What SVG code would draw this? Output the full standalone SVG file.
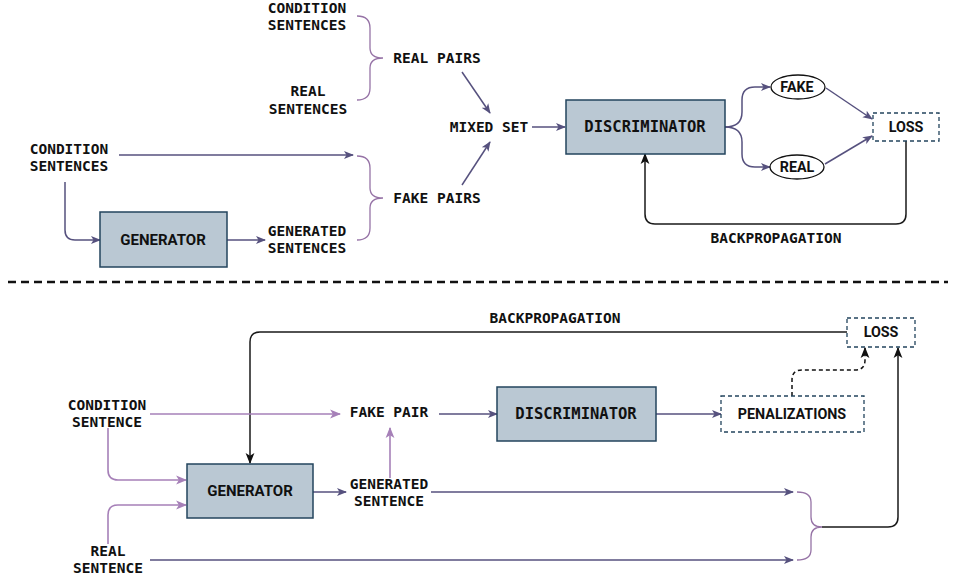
<svg xmlns="http://www.w3.org/2000/svg" width="955" height="579" viewBox="0 0 955 579">
<style>
.mono{font-family:"DejaVu Sans Mono","Liberation Mono",monospace;font-weight:bold;font-size:14.5px;fill:#111;text-anchor:middle}
.sans{font-family:Roboto,"Liberation Sans",Arial,sans-serif;font-weight:bold;font-size:14.3px;fill:#111;text-anchor:middle}
.box{fill:#bac8d3;stroke:#23445d;stroke-width:1.5}
.dbox{fill:#fff;stroke:#23445d;stroke-width:1.3;stroke-dasharray:4 3}
.ell{fill:#fff;stroke:#111;stroke-width:1.3}
.dp{fill:none;stroke:#56517e;stroke-width:1.5}
.lp{fill:none;stroke:#a680b8;stroke-width:1.6}
.br{fill:none;stroke:#9673a6;stroke-width:1.3}
.bk{fill:none;stroke:#1a1a1a;stroke-width:1.5}
</style>
<defs>
<marker id="ad" viewBox="0 0 10 10" refX="9" refY="5" markerWidth="10" markerHeight="10" markerUnits="userSpaceOnUse" orient="auto"><path d="M0,1 L10,5 L0,9 L2.5,5 z" fill="#56517e"/></marker>
<marker id="al" viewBox="0 0 10 10" refX="9" refY="5" markerWidth="11" markerHeight="11" markerUnits="userSpaceOnUse" orient="auto"><path d="M0,1 L10,5 L0,9 L2.5,5 z" fill="#a680b8"/></marker>
<marker id="ab" viewBox="0 0 10 10" refX="9" refY="5" markerWidth="11" markerHeight="11" markerUnits="userSpaceOnUse" orient="auto"><path d="M0,1 L10,5 L0,9 L2.5,5 z" fill="#111"/></marker>
</defs>
<rect width="955" height="579" fill="#fff"/>

<g id="connectors">
<path class="br" d="M357,16 Q370,16 370,28 L370,48 Q370,58 383,58 Q370,58 370,68 L370,88 Q370,100 357,100"/>
<path class="br" d="M357,156 Q370,156 370,168 L370,188 Q370,198 383,198 Q370,198 370,208 L370,228 Q370,240 357,240"/>
<path class="dp" d="M462,72 L490,113" marker-end="url(#ad)"/>
<path class="dp" d="M462,185 L490,142" marker-end="url(#ad)"/>
<path class="dp" d="M119,155 L353,155" marker-end="url(#ad)"/>
<path class="dp" d="M65,182 L65,230 Q65,240 75,240 L100,240" marker-end="url(#ad)"/>
<path class="dp" d="M227,240 L265,240" marker-end="url(#ad)"/>
<path class="dp" d="M532,127 L565,127" marker-end="url(#ad)"/>
<path class="dp" d="M725,127 Q742,127 742,112 L742,100 Q742,87 755,87 L770,87" marker-end="url(#ad)"/>
<path class="dp" d="M725,127 Q742,127 742,142 L742,154 Q742,167 755,167 L770,167" marker-end="url(#ad)"/>
<path class="dp" d="M826,88 L872,119" marker-end="url(#ad)"/>
<path class="dp" d="M825,164 L872,136" marker-end="url(#ad)"/>
<path class="bk" d="M906,141 L906,214 Q906,224 896,224 L655,224 Q645,224 645,214 L645,154" marker-end="url(#ab)"/>
<path d="M8,282 L948,282" stroke="#111" stroke-width="2.5" stroke-dasharray="8 5" fill="none"/>
<path class="bk" d="M847,332 L260,332 Q250,332 250,342 L250,463" marker-end="url(#ab)"/>
<path class="lp" d="M150,414 L340,414" marker-end="url(#al)"/>
<path class="lp" d="M108,428 L108,470 Q108,480 118,480 L186,480" marker-end="url(#al)"/>
<path class="lp" d="M108,544 L108,515 Q108,505 118,505 L186,505" marker-end="url(#al)"/>
<path class="dp" d="M313,492 L346,492" marker-end="url(#ad)"/>
<path class="lp" d="M390,478 L390,428" marker-end="url(#al)"/>
<path class="dp" d="M439,414 L497,414" marker-end="url(#ad)"/>
<path class="dp" d="M656,414 L721,414" marker-end="url(#ad)"/>
<path d="M792,396 L792,380 Q792,370 802,370 L855,370 Q865,370 865,360 L865,348" fill="none" stroke="#111" stroke-width="1.5" stroke-dasharray="4 3" marker-end="url(#ab)"/>
<path class="dp" d="M431,492 L793,492" marker-end="url(#ad)"/>
<path class="dp" d="M150,560 L793,560" marker-end="url(#ad)"/>
<path class="br" d="M797,492 Q811,492 811,502 L811,517 Q811,527 822,527 Q811,527 811,537 L811,550 Q811,560 797,560"/>
<path class="bk" d="M822,527 L888,527 Q898,527 898,517 L898,348" marker-end="url(#ab)"/>
</g>

<g id="t-cond-top"><text class="mono" x="307" y="13">CONDITION</text><text class="mono" x="307" y="30">SENTENCES</text></g>
<g id="t-real"><text class="mono" x="308" y="96">REAL</text><text class="mono" x="308" y="114">SENTENCES</text></g>
<g id="t-realpairs"><text class="mono" x="437" y="63">REAL PAIRS</text></g>
<g id="t-mixed"><text class="mono" x="489" y="132">MIXED SET</text></g>
<g id="t-fakepairs"><text class="mono" x="437" y="203">FAKE PAIRS</text></g>
<g id="t-cond-left"><text class="mono" x="69" y="154">CONDITION</text><text class="mono" x="69" y="171">SENTENCES</text></g>
<g id="t-generator"><rect class="box" x="100" y="212" width="127" height="55"/><text class="sans" x="163" y="245" style="font-size:15px">GENERATOR</text></g>
<g id="t-generated"><text class="mono" x="307" y="236">GENERATED</text><text class="mono" x="307" y="253">SENTENCES</text></g>
<g id="t-disc"><rect class="box" x="566" y="100" width="159" height="54"/><text class="mono" x="645" y="132" style="font-size:15.5px">DISCRIMINATOR</text></g>
<g id="t-fake"><ellipse class="ell" cx="798" cy="87" rx="27" ry="12"/><text class="sans" x="797" y="92">FAKE</text></g>
<g id="t-realout"><ellipse class="ell" cx="797" cy="167" rx="27" ry="12"/><text class="sans" x="797" y="172">REAL</text></g>
<g id="t-loss"><rect class="dbox" x="873" y="113" width="66" height="28"/><text class="sans" x="906" y="132">LOSS</text></g>
<g id="t-backprop"><text class="mono" x="776" y="243">BACKPROPAGATION</text></g>

<g id="b-backprop"><text class="mono" x="555" y="323">BACKPROPAGATION</text></g>
<g id="b-loss"><rect class="dbox" x="847" y="318" width="68" height="29"/><text class="sans" x="881" y="337">LOSS</text></g>
<g id="b-cond"><text class="mono" x="107" y="410">CONDITION</text><text class="mono" x="107" y="427">SENTENCE</text></g>
<g id="b-real"><text class="mono" x="108" y="556">REAL</text><text class="mono" x="108" y="573">SENTENCE</text></g>
<g id="b-generator"><rect class="box" x="187" y="464" width="126" height="54"/><text class="sans" x="250" y="496" style="font-size:15px">GENERATOR</text></g>
<g id="b-generated"><text class="mono" x="389" y="489">GENERATED</text><text class="mono" x="389" y="506">SENTENCE</text></g>
<g id="b-fakepair"><text class="mono" x="389" y="417">FAKE PAIR</text></g>
<g id="b-disc"><rect class="box" x="497" y="387" width="159" height="54"/><text class="mono" x="576" y="419" style="font-size:15.5px">DISCRIMINATOR</text></g>
<g id="b-penal"><rect class="dbox" x="721" y="396" width="143" height="36"/><text class="sans" x="792" y="419">PENALIZATIONS</text></g>
</svg>
